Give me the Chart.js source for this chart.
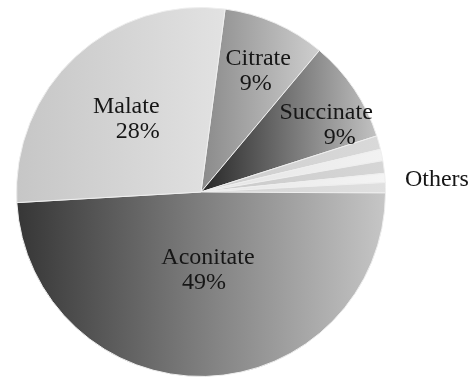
<!DOCTYPE html>
<html>
<head>
<meta charset="utf-8">
<script src="https://cdn.jsdelivr.net/npm/chart.js@4/dist/chart.umd.min.js"></script>
<style>
  html, body { margin: 0; padding: 0; background: #ffffff; }
  #wrap { width: 469px; height: 382px; }
</style>
</head>
<body>
<div id="wrap"><canvas id="c" width="469" height="382"></canvas></div>
<script>
// Organic acid composition (percent of total)
const categories = ['Citrate', 'Succinate', 'Other 1', 'Other 2', 'Other 3', 'Other 4', 'Other 5', 'Aconitate', 'Malate'];
const shares = [9, 9, 1.2, 1.0, 1.1, 0.8, 0.9, 49, 28];
const minorGroup = [2, 3, 4, 5, 6];          // slices gathered under one outside label
const minorGroupLabel = 'Others';

// Gradient fill per slice: left (dark) stop, right (light) stop
const sliceShades = [
  ['#8a8a8a', '#cecece'],
  ['#262626', '#c2c2c2'],
  ['#cdcdcd', '#d9d9d9'],
  ['#e4e4e4', '#f2f2f2'],
  ['#cacaca', '#d6d6d6'],
  ['#e6e6e6', '#f4f4f4'],
  ['#d2d2d2', '#e0e0e0'],
  ['#363636', '#c6c6c6'],
  ['#c6c6c6', '#e2e2e2']
];

// In-slice label placement: radius fraction, angle nudge (deg), second-line x shift
const labelPlacement = {
  Citrate:   { r: 0.731, da: 1.4,  dx2: -2.5 },
  Succinate: { r: 0.774, da: 5.1,  dx2: 13.5 },
  Aconitate: { r: 0.415, da: -3.7, dx2: -4 },
  Malate:    { r: 0.571, da: -2.3, dx2: 11.5 }
};

const FONT = '24px "Liberation Serif", "Times New Roman", serif';
const total = shares.reduce((a, b) => a + b, 0);

const sliceGradients = {
  id: 'sliceGradients',
  beforeDatasetsDraw(chart) {
    const ctx = chart.ctx;
    const TAU = Math.PI * 2;
    chart.getDatasetMeta(0).data.forEach((arc, i) => {
      const p = arc.getProps(['x', 'y', 'startAngle', 'endAngle', 'outerRadius'], true);
      const xs = [p.x, p.x + p.outerRadius * Math.cos(p.startAngle), p.x + p.outerRadius * Math.cos(p.endAngle)];
      for (const a of [0, Math.PI]) {
        const k = Math.ceil((p.startAngle - a) / TAU);
        if (a + k * TAU <= p.endAngle) xs.push(p.x + p.outerRadius * Math.cos(a));
      }
      const g = ctx.createLinearGradient(Math.min(...xs), 0, Math.max(...xs), 0);
      g.addColorStop(0, sliceShades[i][0]);
      g.addColorStop(1, sliceShades[i][1]);
      arc.options.backgroundColor = g;
    });
  }
};

const sliceLabels = {
  id: 'sliceLabels',
  afterDatasetsDraw(chart) {
    const ctx = chart.ctx;
    const arcs = chart.getDatasetMeta(0).data;
    ctx.save();
    ctx.font = FONT;
    ctx.fillStyle = '#161616';
    ctx.textAlign = 'center';
    ctx.textBaseline = 'alphabetic';
    arcs.forEach((arc, i) => {
      const name = categories[i];
      const spec = labelPlacement[name];
      if (!spec) return;
      const p = arc.getProps(['x', 'y', 'startAngle', 'endAngle', 'outerRadius'], true);
      const mid = (p.startAngle + p.endAngle) / 2 + spec.da * Math.PI / 180;
      const ax = p.x + Math.cos(mid) * p.outerRadius * spec.r;
      const ay = p.y + Math.sin(mid) * p.outerRadius * spec.r;
      const pct = Math.round(shares[i] / total * 100) + '%';
      ctx.fillText(name, ax, ay - 4.5);
      ctx.fillText(pct, ax + spec.dx2, ay + 20.5);
    });
    // outside label for the group of minor slices
    const first = arcs[minorGroup[0]].getProps(['x', 'y', 'startAngle', 'outerRadius'], true);
    const last = arcs[minorGroup[minorGroup.length - 1]].getProps(['endAngle'], true);
    const mid = (first.startAngle + last.endAngle) / 2;
    const ox = first.x + Math.cos(mid) * first.outerRadius;
    const oy = first.y + Math.sin(mid) * first.outerRadius;
    ctx.textAlign = 'left';
    ctx.fillText(minorGroupLabel, ox + 21.5, oy + 22);
    ctx.restore();
  }
};

new Chart(document.getElementById('c'), {
  type: 'pie',
  data: {
    labels: categories,
    datasets: [{
      data: shares,
      backgroundColor: (c) => sliceShades[c.dataIndex][0],
      borderColor: '#eeeeee',
      borderWidth: 1
    }]
  },
  options: {
    responsive: false,
    devicePixelRatio: 1,
    animation: false,
    rotation: 7.5,
    layout: { padding: { left: 16, right: 83, top: 7, bottom: 5 } },
    plugins: {
      legend: { display: false },
      tooltip: { enabled: false }
    }
  },
  plugins: [sliceGradients, sliceLabels]
});
</script>
</body>
</html>
